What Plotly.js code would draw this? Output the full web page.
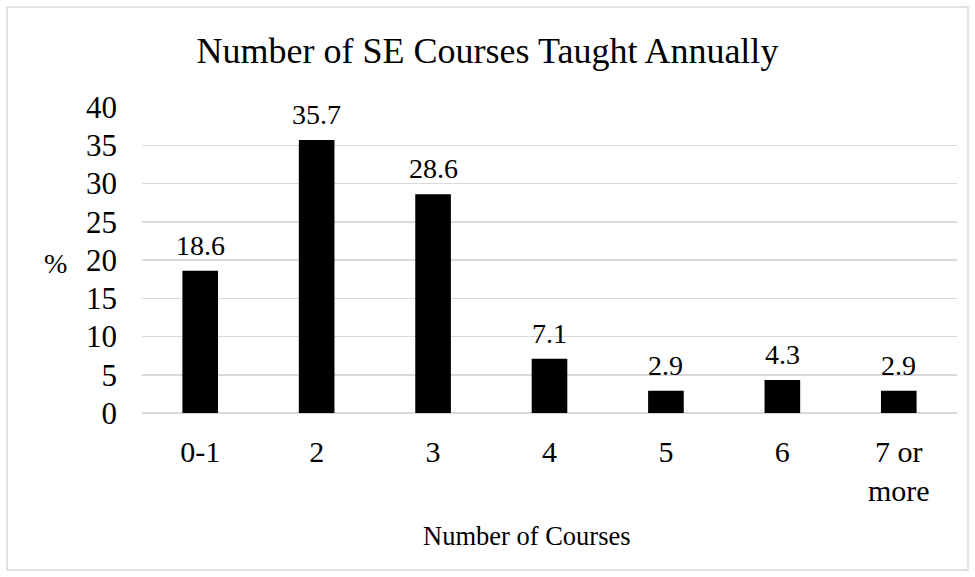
<!DOCTYPE html>
<html>
<head>
<meta charset="utf-8">
<script src="https://cdn.plot.ly/plotly-3.0.1.min.js"></script>
<style>html,body{margin:0;padding:0;background:#fff;}#chart{width:975px;height:577px;}</style>
</head>
<body>
<div id="chart"></div>
<script>
var categories = ["0-1", "2", "3", "4", "5", "6", "7 or<br>more"];
var percentages = [18.6, 35.7, 28.6, 7.1, 2.9, 4.3, 2.9];
var labels = ["18.6", "35.7", "28.6", "7.1", "2.9", "4.3", "2.9"];
var yTicks = [0, 5, 10, 15, 20, 25, 30, 35, 40];

var FONT = "Liberation Serif, Times New Roman, serif";

var trace = {
  type: "bar",
  x: categories,
  y: percentages,
  marker: {color: "#000000", line: {width: 0}},
  hoverinfo: "skip"
};

var annotations = categories.map(function (c, i) {
  return {
    x: i, y: percentages[i], xref: "x", yref: "y",
    text: labels[i], showarrow: false,
    xanchor: "center", yanchor: "bottom", yshift: 8,
    font: {family: FONT, size: 28, color: "#000"}
  };
});
annotations.push({
  x: -0.106, y: 0.49, xref: "paper", yref: "paper",
  text: "%", showarrow: false, xanchor: "center", yanchor: "middle",
  font: {family: FONT, size: 28, color: "#000"}
});
annotations.push({
  x: 0.472, y: -0.347, xref: "paper", yref: "paper",
  text: "Number of Courses", showarrow: false, xanchor: "center", yanchor: "top",
  font: {family: FONT, size: 26.5, color: "#000"}
});

var layout = {
  width: 975, height: 577,
  margin: {l: 142, r: 18, t: 107, b: 164, pad: 0},
  paper_bgcolor: "#fff", plot_bgcolor: "#fff",
  showlegend: false,
  bargap: 0.694,
  title: {
    text: "Number of SE Courses Taught Annually",
    x: 0.5, xref: "container", xanchor: "center",
    y: 0.912, yref: "container", yanchor: "middle",
    font: {family: FONT, size: 36, color: "#000"}
  },
  xaxis: {
    type: "category",
    tickfont: {family: FONT, size: 30, color: "#000"},
    ticks: "", ticklabelstandoff: 18,
    showgrid: false, zeroline: false, showline: false,
    fixedrange: true
  },
  yaxis: {
    range: [0, 40], tickmode: "array", tickvals: yTicks,
    tickfont: {family: FONT, size: 31, color: "#000"},
    ticks: "", ticklabelstandoff: 24,
    showgrid: true, gridcolor: "#d9d9d9", gridwidth: 1.5,
    zeroline: true, zerolinecolor: "#d9d9d9", zerolinewidth: 1.5,
    showline: false, fixedrange: true
  },
  annotations: annotations,
  shapes: [{
    type: "rect", xref: "paper", yref: "paper",
    x0: -0.1656, x1: 1.0135, y0: -0.513, y1: 1.327,
    line: {color: "#d9d9d9", width: 1.5}, fillcolor: "rgba(0,0,0,0)", layer: "below"
  }]
};

Plotly.newPlot("chart", [trace], layout, {displayModeBar: false, staticPlot: true});
</script>
</body>
</html>
